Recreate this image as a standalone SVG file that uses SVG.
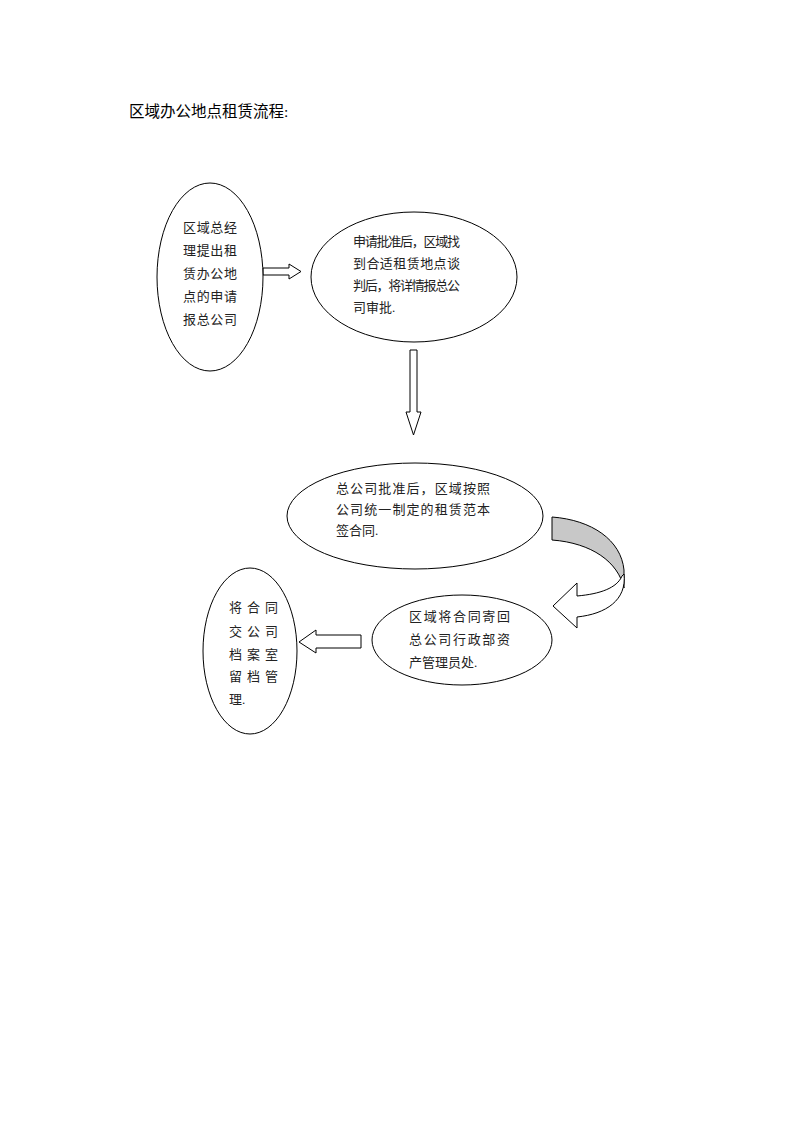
<svg xmlns="http://www.w3.org/2000/svg" width="793" height="1122" viewBox="0 0 793 1122">
<style>
.bg{fill:#fff}
.n{fill:#fff;stroke:#000;stroke-width:1}
.t{font-family:"Liberation Serif","Noto Sans CJK SC",serif;font-size:13px;fill:#222}
.ti{font-family:"Liberation Serif","Noto Sans CJK SC",serif;font-size:15.5px;fill:#000}
.a{fill:#fff;stroke:#000;stroke-width:1;stroke-linejoin:miter}
.g{fill:#c8c8c8;stroke:#000;stroke-width:1}
</style>
<rect class="bg" x="0" y="0" width="793" height="1122"/>
<text class="ti" x="129" y="117">区域办公地点租赁流程:</text>
<g id="connectors">
<polygon class="a" points="263,268 289,268 289,264 301,271.5 289,279 289,275 263,275"/>
<polygon class="a" points="410,350 417,350 417,412 421,412 413.5,435 406,412 410,412"/>
<path class="g" d="M552,517 C592,520 621,540 624,570 L624,588 C618,562 592,543 552,540 Z"/>
<path class="a" d="M624,574 C627,600 606,614 577,617 L577,628 L553,606 L577,583 L577,596 C600,594 617,588 622,576 Z"/>
<polygon class="a" points="361,635 316,635 316,630 299,642 316,653 316,648 361,648"/>
</g>
<g id="n1">
<ellipse class="n" cx="210" cy="277" rx="53" ry="94"/>
<text class="t" x="183" y="232" textLength="54" lengthAdjust="spacing">区域总经</text>
<text class="t" x="183" y="255" textLength="54" lengthAdjust="spacing">理提出租</text>
<text class="t" x="183" y="278" textLength="54" lengthAdjust="spacing">赁办公地</text>
<text class="t" x="183" y="301" textLength="54" lengthAdjust="spacing">点的申请</text>
<text class="t" x="183" y="324" textLength="54" lengthAdjust="spacing">报总公司</text>
</g>
<g id="n2">
<ellipse class="n" cx="414" cy="277" rx="103" ry="65"/>
<text class="t" x="353" y="246" textLength="107" lengthAdjust="spacing">申请批准后，区域找</text>
<text class="t" x="353" y="268" textLength="107" lengthAdjust="spacing">到合适租赁地点谈</text>
<text class="t" x="353" y="290" textLength="107" lengthAdjust="spacing">判后，将详情报总公</text>
<text class="t" x="353" y="312">司审批.</text>
</g>
<g id="n3">
<ellipse class="n" cx="415" cy="516" rx="128" ry="53"/>
<text class="t" x="336" y="493" textLength="154" lengthAdjust="spacing">总公司批准后，区域按照</text>
<text class="t" x="336" y="514" textLength="154" lengthAdjust="spacing">公司统一制定的租赁范本</text>
<text class="t" x="336" y="535">签合同.</text>
</g>
<g id="n4">
<ellipse class="n" cx="462" cy="640" rx="90" ry="45"/>
<text class="t" x="409" y="621" textLength="101" lengthAdjust="spacing">区域将合同寄回</text>
<text class="t" x="409" y="644" textLength="101" lengthAdjust="spacing">总公司行政部资</text>
<text class="t" x="409" y="667">产管理员处.</text>
</g>
<g id="n5">
<ellipse class="n" cx="250" cy="651" rx="47" ry="83"/>
<text class="t" x="229" y="612" textLength="49" lengthAdjust="spacing">将合同</text>
<text class="t" x="229" y="636" textLength="49" lengthAdjust="spacing">交公司</text>
<text class="t" x="229" y="659" textLength="49" lengthAdjust="spacing">档案室</text>
<text class="t" x="229" y="681" textLength="49" lengthAdjust="spacing">留档管</text>
<text class="t" x="229" y="704">理.</text>
</g>
</svg>
